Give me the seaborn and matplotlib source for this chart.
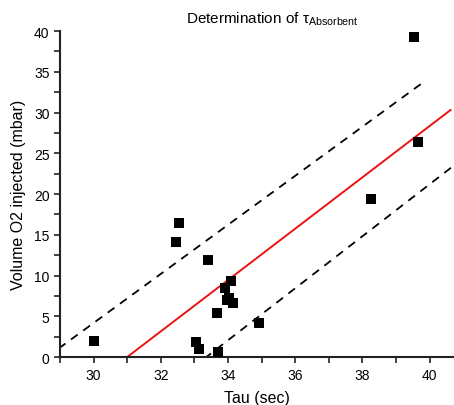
import numpy as np
import pandas as pd
import matplotlib
matplotlib.use("Agg")
import matplotlib.pyplot as plt
import seaborn as sns

# Measured points
tau = [30.0, 32.45, 32.54, 33.40, 33.04, 33.13, 33.70, 33.67, 33.91, 34.09,
       33.96, 34.03, 34.15, 34.93, 38.27, 39.55, 39.67]
volume = [2.0, 14.1, 16.4, 11.9, 1.8, 1.0, 0.65, 5.4, 8.5, 9.3,
          7.0, 7.2, 6.6, 4.2, 19.4, 39.3, 26.4]

# Linear fit and band lines: slope, intercept, x-range
fit_slope, fit_intercept = 3.15, -97.65
fit_range = [31.0, 40.63]
upper_slope, upper_intercept = 3.01, -86.12
upper_range = [28.6, 39.88]
lower_slope, lower_intercept = 3.19, -106.4
lower_range = [33.3, 40.75]

x_ticks = [30, 32, 34, 36, 38, 40]
y_ticks = [0, 5, 10, 15, 20, 25, 30, 35, 40]

sns.set_style("ticks")
plt.rcParams["font.family"] = ["Liberation Sans", "DejaVu Sans"]
plt.rcParams["mathtext.fontset"] = "custom"
plt.rcParams["mathtext.rm"] = "Liberation Sans"
plt.rcParams["mathtext.it"] = "Liberation Sans"
for key in ["text.color", "axes.labelcolor", "xtick.color", "ytick.color"]:
    plt.rcParams[key] = "black"

fig = plt.figure(figsize=(4.54, 4.06), dpi=100)
ax = fig.add_axes([0.132, 0.118, 0.866, 0.803])

def line_df(slope, intercept, xr):
    xs = np.array(xr)
    return pd.DataFrame({"x": xs, "y": slope * xs + intercept})

sns.lineplot(data=line_df(upper_slope, upper_intercept, upper_range), x="x", y="y",
             ax=ax, color="black", linewidth=1.3)
ax.lines[-1].set_dashes([4.6, 3.8])
sns.lineplot(data=line_df(lower_slope, lower_intercept, lower_range), x="x", y="y",
             ax=ax, color="black", linewidth=1.3)
ax.lines[-1].set_dashes([4.6, 3.8])
sns.lineplot(data=line_df(fit_slope, fit_intercept, fit_range), x="x", y="y",
             ax=ax, color="#ee1111", linewidth=1.4)

sns.scatterplot(x=tau, y=volume, ax=ax, marker="s", s=42, color="black",
                edgecolor="black", linewidth=0, zorder=5)

ax.set_xlim(29.0, 40.7)
ax.set_ylim(0, 40)
ax.set_xticks(x_ticks)
ax.set_yticks(y_ticks)
ax.set_xticks(np.arange(29, 41, 1), minor=True)
ax.set_yticks(np.arange(0, 40.1, 2.5), minor=True)
ax.tick_params(which="both", direction="out", length=4, width=1.2, color="#222222",
               labelsize=10, labelcolor="black")
for s in ["top", "right"]:
    ax.spines[s].set_visible(False)
for s in ["left", "bottom"]:
    ax.spines[s].set_linewidth(1.5)
    ax.spines[s].set_color("#222222")

ax.set_xlabel("Tau (sec)", fontsize=11.5, labelpad=6)
ax.set_ylabel("Volume O2 injected (mbar)", fontsize=11.5, labelpad=6)
ax.set_title(r"Determination of $\tau_{\mathrm{Absorbent}}$", fontsize=11, pad=6,
             x=0.54, color="black")

fig.savefig("out.png", dpi=100)
